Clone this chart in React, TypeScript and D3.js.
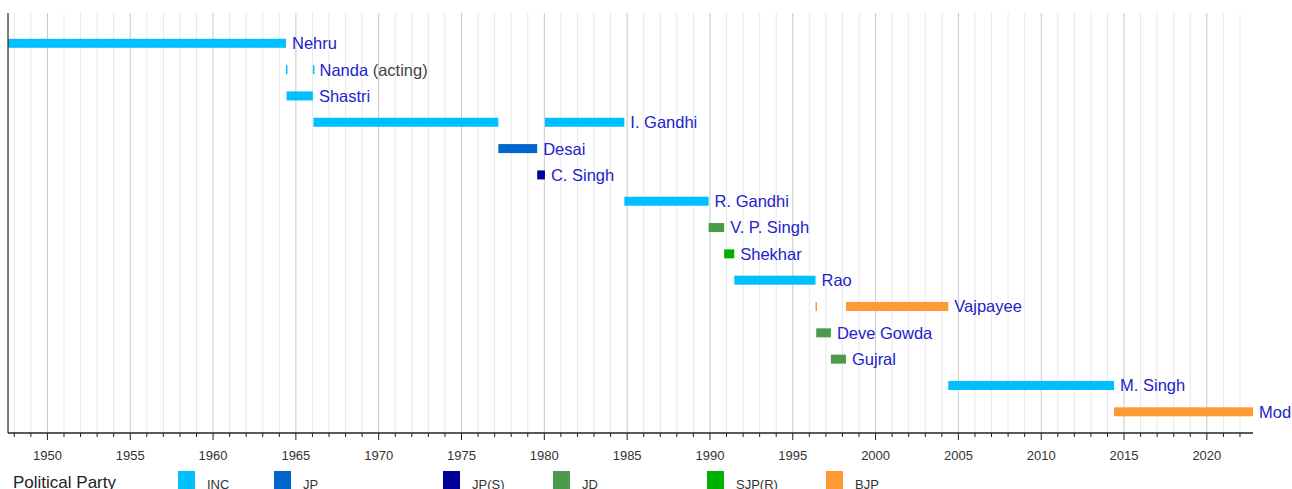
import React from 'react';
import * as d3 from 'd3';

// party colours
const parties = ['INC', 'JP', 'JP(S)', 'JD', 'SJP(R)', 'BJP'];
const partyColors = ['#00bfff', '#0066cc', '#000099', '#4c9a4c', '#00b000', '#ff9933'];

// one row per prime minister, top to bottom
const names = [
  'Nehru', 'Nanda', 'Shastri', 'I. Gandhi', 'Desai', 'C. Singh', 'R. Gandhi',
  'V. P. Singh', 'Shekhar', 'Rao', 'Vajpayee', 'Deve Gowda', 'Gujral', 'M. Singh', 'Modi',
];
const notes = ['', '(acting)', '', '', '', '', '', '', '', '', '', '', '', '', ''];

// terms: [row, party, start, end]  (dates as ISO strings)
const termRows = [0, 1, 1, 2, 3, 3, 4, 5, 6, 7, 8, 9, 10, 10, 11, 12, 13, 14];
const termParties = [
  'INC', 'INC', 'INC', 'INC', 'INC', 'INC', 'JP', 'JP(S)', 'INC', 'JD', 'SJP(R)',
  'INC', 'BJP', 'BJP', 'JD', 'JD', 'INC', 'BJP',
];
const termStarts = [
  '1947-08-15', '1964-05-27', '1966-01-11', '1964-06-09', '1966-01-24', '1980-01-14',
  '1977-03-24', '1979-07-28', '1984-10-31', '1989-12-02', '1990-11-10', '1991-06-21',
  '1996-05-16', '1998-03-19', '1996-06-01', '1997-04-21', '2004-05-22', '2014-05-26',
];
const termEnds = [
  '1964-05-27', '1964-06-09', '1966-01-24', '1966-01-11', '1977-03-24', '1984-10-31',
  '1979-07-28', '1980-01-14', '1989-12-02', '1990-11-10', '1991-06-21', '1996-05-16',
  '1996-06-01', '2004-05-22', '1997-04-21', '1998-03-19', '2014-05-26', '2022-10-15',
];

const WIDTH = 1292;
const HEIGHT = 489;
const FONT = 'Liberation Sans, Arial, Helvetica, sans-serif';

const toYear = (s: string) => {
  const d = new Date(s + 'T00:00:00Z');
  const y = d.getUTCFullYear();
  const a = Date.UTC(y, 0, 1);
  const b = Date.UTC(y + 1, 0, 1);
  return y + (d.getTime() - a) / (b - a);
};

const App = () => {
  const starts = termStarts.map(toYear);
  const ends = termEnds.map(toYear);

  const x = d3.scaleLinear()
    .domain([d3.min(starts) as number, d3.max(ends) as number])
    .range([8, 1253]);
  const y = d3.scalePoint<number>()
    .domain(names.map((_, i) => i))
    .range([43.3, 411.8]);
  const color = d3.scaleOrdinal<string, string>().domain(parties).range(partyColors);

  const plotTop = 13;
  const axisY = 433;
  const barH = 9;

  const years = d3.range(Math.ceil(x.domain()[0]), Math.floor(x.domain()[1]) + 1);
  const majors = years.filter(v => v % 5 === 0);

  // last end of each row, for placing the names
  const rowEnd = names.map((_, i) =>
    d3.max(termRows.map((r, j) => (r === i ? ends[j] : -Infinity))) as number);

  // legend layout
  const legendX = [178, 274, 443, 553, 707, 826];

  return (
    <svg width={WIDTH} height={HEIGHT} style={{ position: 'absolute', left: 0, top: 0 }}
      fontFamily={FONT}>
      <rect width={WIDTH} height={HEIGHT} fill="#fff" />
      {/* grid lines */}
      {years.map(v => (
        <line key={'g' + v} x1={x(v)} x2={x(v)} y1={plotTop} y2={axisY}
          stroke={v % 5 === 0 ? '#c8c8c8' : '#e8e8e8'} strokeWidth={1} />
      ))}
      {/* bars */}
      {termRows.map((r, j) => {
        const x0 = x(starts[j]);
        const w = Math.max(x(ends[j]) - x0, 1.5);
        return (
          <rect key={'b' + j} x={x0} y={(y(r) as number) - barH / 2} width={w} height={barH}
            fill={color(termParties[j])} />
        );
      })}
      {/* names */}
      {names.map((n, i) => (
        <text key={'n' + i} x={x(rowEnd[i]) + 6} y={y(i) as number} dy="0.36em"
          fontSize={16.5} fill="#2222cc">
          {n}
          {notes[i] ? <tspan fill="#444"> {notes[i]}</tspan> : null}
        </text>
      ))}
      {/* axes */}
      <line x1={x.range()[0]} x2={x.range()[0]} y1={plotTop} y2={axisY} stroke="#333" strokeWidth={1.3} />
      <line x1={x.range()[0]} x2={x.range()[1]} y1={axisY} y2={axisY} stroke="#222" strokeWidth={1.3} />
      {years.map(v => (
        <line key={'t' + v} x1={x(v)} x2={x(v)} y1={axisY} y2={axisY + (v % 5 === 0 ? 7 : 4)}
          stroke="#222" strokeWidth={1} />
      ))}
      {majors.map(v => (
        <text key={'l' + v} x={x(v)} y={460} textAnchor="middle" fontSize={13} fill="#333">
          {v}
        </text>
      ))}
      {/* legend */}
      <text x={13} y={488} fontSize={17} fill="#222">Political Party</text>
      {parties.map((p, i) => (
        <g key={'lg' + p}>
          <rect x={legendX[i]} y={471} width={17} height={18} fill={color(p)} />
          <text x={legendX[i] + 29} y={489} fontSize={13} fill="#333">{p}</text>
        </g>
      ))}
    </svg>
  );
};

export default App;
